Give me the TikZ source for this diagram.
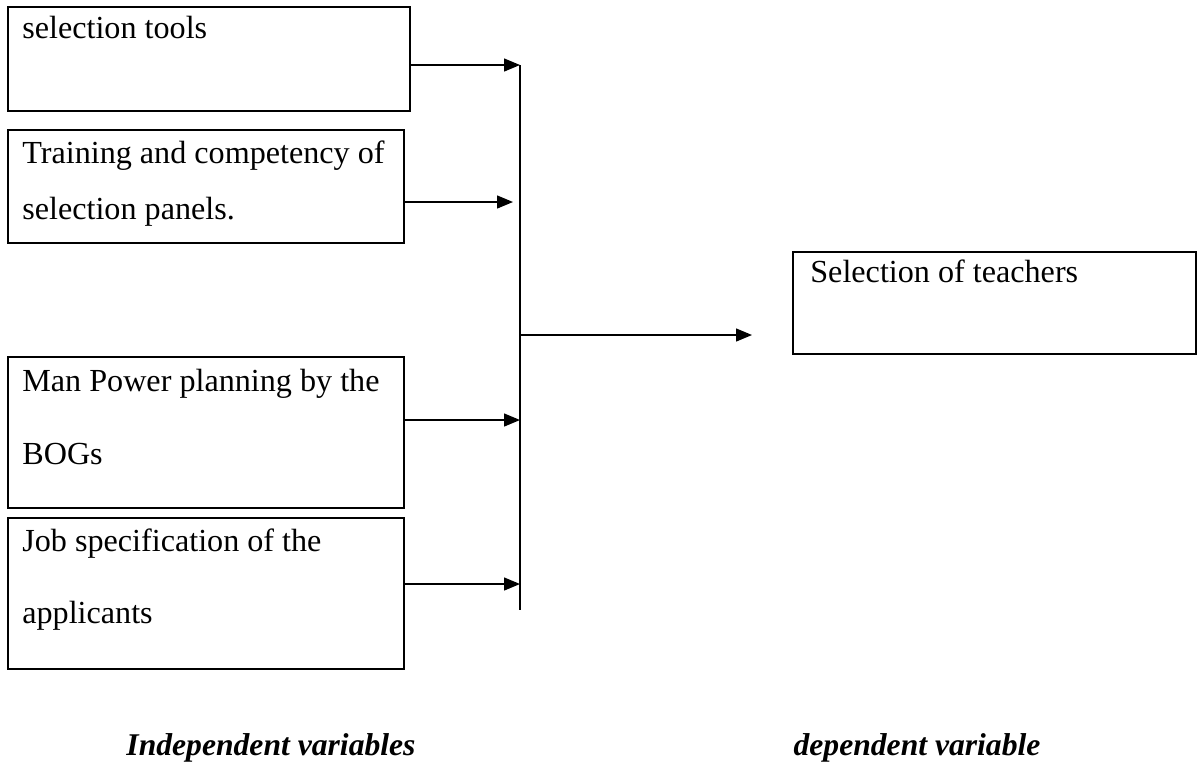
\documentclass[tikz,border=0pt]{standalone}
\usepackage{fontspec}
\setmainfont{Liberation Serif}
\usetikzlibrary{arrows.meta}
\tikzset{
  varbox/.style={draw, thick, inner sep=0pt, outer sep=0pt},
  vartext/.style={anchor=base west, inner sep=0pt, font=\fontsize{18.3}{21}\selectfont},
  caption/.style={anchor=base, inner sep=0pt, font=\fontsize{18}{20}\selectfont\bfseries\itshape},
  arr/.style={thick, -{Triangle[length=3.2mm, width=2.6mm]}}
}
\begin{document}
\begin{tikzpicture}[x=0.02cm, y=-0.02cm]
\useasboundingbox (0,0) rectangle (1203,768);
% independent variables
\node[varbox, minimum width=8.04cm, minimum height=2.08cm] (tools) at (209,59) {};
\node[varbox, minimum width=7.92cm, minimum height=2.26cm] (panels) at (206,186.5) {};
\node[varbox, minimum width=7.92cm, minimum height=3.02cm] (bogs) at (206,432.5) {};
\node[varbox, minimum width=7.92cm, minimum height=3.02cm] (jobspec) at (206,593.5) {};
\node[vartext] (t1) at (22,38) {selection tools};
\node[vartext] (t2a) at (22,163) {Training and competency of};
\node[vartext] (t2b) at (22,219) {selection panels.};
\node[vartext] (t3a) at (22,391) {Man Power planning by the};
\node[vartext] (t3b) at (22,464) {BOGs};
\node[vartext] (t4a) at (22,551) {Job specification of the};
\node[vartext] (t4b) at (22,623) {applicants};
% dependent variable
\node[varbox, minimum width=8.06cm, minimum height=2.04cm] (teachers) at (994.5,303) {};
\node[vartext] (t5) at (810,282) {Selection of teachers};
% bus line
\coordinate (top) at (520,65);
\coordinate (bottom) at (520,610);
\coordinate (j2) at (513,202);
\coordinate (j3) at (520,420);
\coordinate (j4) at (520,584);
\coordinate (mid) at (520,335);
\coordinate (tip) at (752,335);
\draw[thick] (top) -- (bottom);
\draw[arr] (tools.east |- top) -- (top);
\draw[arr] (panels.east |- j2) -- (j2);
\draw[arr] (bogs.east |- j3) -- (j3);
\draw[arr] (jobspec.east |- j4) -- (j4);
\draw[arr] (mid) -- (tip);
% captions
\node[caption] (indep) at (271,755) {Independent variables};
\node[caption] (dep) at (917,755) {dependent variable};
\end{tikzpicture}
\end{document}
